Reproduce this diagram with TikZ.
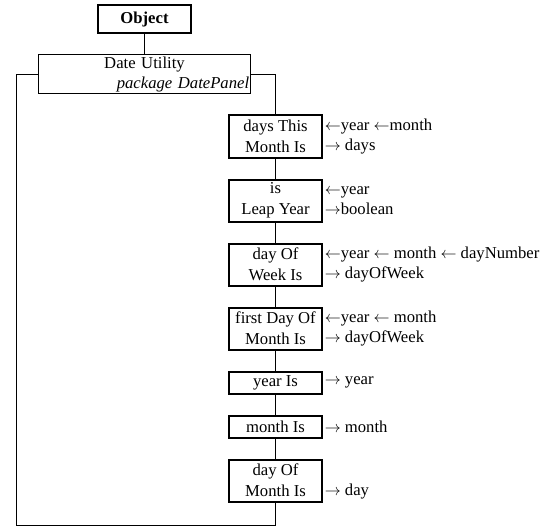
\documentclass[tikz,border=0pt]{standalone}
\usepackage{fontspec}
\setmainfont{Liberation Serif}
\usetikzlibrary{positioning}

\begin{document}
\begin{tikzpicture}[
    x=0.75pt, y=-0.75pt,
    node distance=15pt,
    box/.style={
        draw,
        line width=1.5pt,
        minimum width=70pt,
        inner sep=1pt,
        align=center,
        font=\fontsize{12.5}{15.5}\selectfont,
    },
    twobox/.style={box, minimum height=31.5pt},
    onebox/.style={box, minimum height=16.5pt},
    io/.style={anchor=west, align=left, inner xsep=1pt, font=\fontsize{12.5}{15.5}\selectfont},
    link/.style={line width=0.75pt},
]
\useasboundingbox (0,0) rectangle (556,531);

% ----- Nodes: class and package -----
\node[box, minimum height=21.5pt, font=\fontsize{12.5}{15.5}\selectfont\bfseries] (obj) at (144.5,19) {Object};
\node[draw, line width=0.75pt, below=of obj, text width=157pt, inner sep=1pt,
      minimum height=29pt, align=center, font=\fontsize{12.5}{15}\selectfont] (du)
      {Date Utility\\\hspace*{\fill}\textit{package DatePanel}};

% ----- Nodes: methods, one column -----
\node[twobox] (days) at (275.5,136.5) {days This\\Month Is};
\node[twobox, below=of days] (leap) {is\\Leap Year};
\node[twobox, below=of leap] (week) {day Of\\Week Is};
\node[twobox, below=of week] (first) {first Day Of\\Month Is};
\node[onebox, below=of first] (yr) {year Is};
\node[onebox, below=of yr] (mon) {month Is};
\node[twobox, below=of mon] (dom) {day Of\\Month Is};

% ----- Parameters and results -----
\node[io] (daysio) at (days.east) {$\leftarrow$year $\leftarrow$month\\$\rightarrow$ days};
\node[io] (leapio) at (leap.east) {$\leftarrow$year\\$\rightarrow$boolean};
\node[io] (weekio) at (week.east) {$\leftarrow$year $\leftarrow$ month $\leftarrow$ dayNumber\\$\rightarrow$ dayOfWeek};
\node[io] (firstio) at (first.east) {$\leftarrow$year $\leftarrow$ month\\$\rightarrow$ dayOfWeek};
\node[io] (yrio) at (yr.east) {$\rightarrow$ year};
\node[io] (monio) at (mon.east) {$\rightarrow$ month};
\node[io] (domio) at ([yshift=-8pt]dom.east) {$\rightarrow$ day};

% ----- Connectors -----
\draw[link] (obj) -- (du);
\draw[link] (du.east) -| (days.north);
\foreach \a/\b in {days/leap, leap/week, week/first, first/yr, yr/mon, mon/dom}
    \draw[link] (\a) -- (\b);

% ----- Loop round the left side -----
\coordinate (corner) at (16,525);
\draw[link] (du.west) -| (corner) -| (dom.south);

\end{tikzpicture}
\end{document}
